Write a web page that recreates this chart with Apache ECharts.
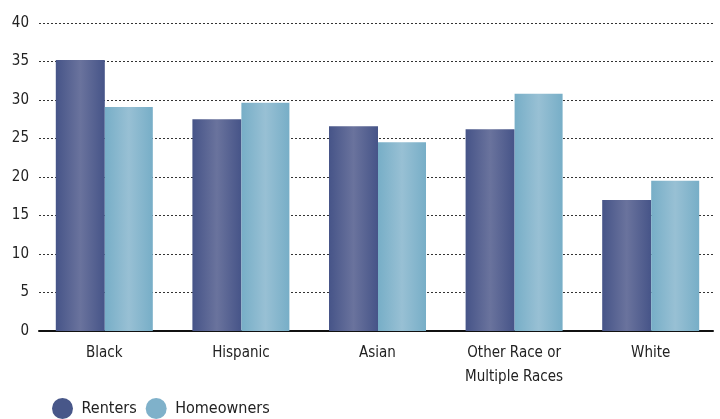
<!DOCTYPE html>
<html><head><meta charset="utf-8">
<script src="https://cdn.jsdelivr.net/npm/echarts@6/dist/echarts.min.js"></script>
<style>html,body{margin:0;padding:0;background:#fff}#c{width:720px;height:419px}</style>
</head><body><div id="c"></div>
<script>
const categories = ['Black', 'Hispanic', 'Asian', 'Other Race or\nMultiple Races', 'White'];
const renters = [35.2, 27.5, 26.6, 26.2, 17.0];
const homeowners = [29.1, 29.65, 24.5, 30.8, 19.5];
const yTicks = [0, 5, 10, 15, 20, 25, 30, 35, 40];

const FAM = '"DejaVu Sans", sans-serif';
const STRETCH = 'condensed';
function grad(edge, mid) {
  return new echarts.graphic.LinearGradient(0, 0, 1, 0, [
    {offset: 0, color: edge}, {offset: 0.5, color: mid}, {offset: 1, color: edge}
  ]);
}
const chart = echarts.init(document.getElementById('c'), null, {renderer: 'canvas'});
chart.setOption({
  animation: false,
  legend: {
    left: 47, top: 393, itemGap: 9, itemWidth: 28, itemHeight: 21, icon: 'circle',
    textStyle: {fontFamily: FAM, fontWeight: STRETCH, fontSize: 16, color: '#222'},
    data: [
      {name: 'Renters', itemStyle: {color: '#485789'}},
      {name: 'Homeowners', itemStyle: {color: '#7fb1ca'}}
    ]
  },
  grid: [
    {left: 36, right: 1, top: 23, bottom: 88},
    {left: 39, right: 7, top: 23, bottom: 88}
  ],
  xAxis: [
    {type: 'category', gridIndex: 0, data: categories,
     axisLine: {show: false}, axisTick: {show: false},
     axisLabel: {interval: 0, fontFamily: FAM, fontWeight: STRETCH, fontSize: 15, color: '#222', margin: 10, lineHeight: 24}},
    {type: 'category', gridIndex: 1, data: categories,
     axisLine: {show: true, lineStyle: {color: '#111', width: 2}}, axisTick: {show: false},
     axisLabel: {show: false}}
  ],
  yAxis: [
    {type: 'value', gridIndex: 0, min: 0, max: 40, interval: 5,
     axisLine: {show: false}, axisTick: {show: false}, axisLabel: {show: false}, splitLine: {show: false}},
    {type: 'value', gridIndex: 1, min: 0, max: 40, interval: 5,
     axisLine: {show: false}, axisTick: {show: false},
     axisLabel: {fontFamily: FAM, fontWeight: STRETCH, fontSize: 15, color: '#222', margin: 10,
       formatter: v => yTicks.includes(v) ? String(v) : ''},
     splitLine: {show: true, lineStyle: {color: '#333', type: [2, 2], width: 1}}}
  ],
  series: [
    {name: 'Renters', type: 'bar', xAxisIndex: 0, yAxisIndex: 0, data: renters,
     barWidth: 49, barGap: '0%', z: 3,
     itemStyle: {color: grad('#465488', '#6a739d')}},
    {name: 'Homeowners', type: 'bar', xAxisIndex: 0, yAxisIndex: 0, data: homeowners,
     barWidth: 48, barGap: '0%', z: 3,
     itemStyle: {color: grad('#77aec7', '#98c0d4')}}
  ]
});
</script></body></html>
